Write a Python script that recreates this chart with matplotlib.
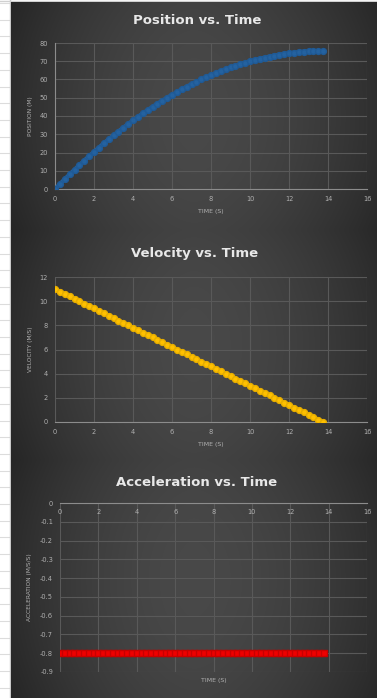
import numpy as np
import matplotlib
matplotlib.use("Agg")
import matplotlib.pyplot as plt

# ---------------- data ----------------
time_s = [0.0, 0.25, 0.5, 0.75, 1.0, 1.25, 1.5, 1.75, 2.0, 2.25, 2.5, 2.75, 3.0, 3.25,
          3.5, 3.75, 4.0, 4.25, 4.5, 4.75, 5.0, 5.25, 5.5, 5.75, 6.0, 6.25, 6.5, 6.75,
          7.0, 7.25, 7.5, 7.75, 8.0, 8.25, 8.5, 8.75, 9.0, 9.25, 9.5, 9.75, 10.0, 10.25,
          10.5, 10.75, 11.0, 11.25, 11.5, 11.75, 12.0, 12.25, 12.5, 12.75, 13.0, 13.25,
          13.5, 13.75]
position_m = [0.0, 2.7, 5.4, 8.0, 10.6, 13.1, 15.6, 18.0, 20.4, 22.7, 25.0, 27.2, 29.4,
              31.5, 33.6, 35.6, 37.6, 39.5, 41.4, 43.2, 45.0, 46.7, 48.4, 50.0, 51.6, 53.1,
              54.6, 56.0, 57.4, 58.7, 60.0, 61.2, 62.4, 63.5, 64.6, 65.6, 66.6, 67.5, 68.4,
              69.2, 70.0, 70.7, 71.4, 72.0, 72.6, 73.1, 73.6, 74.0, 74.4, 74.7, 75.0, 75.2,
              75.4, 75.5, 75.6, 75.6]
velocity_ms = [11.0, 10.8, 10.6, 10.4, 10.2, 10.0, 9.8, 9.6, 9.4, 9.2, 9.0, 8.8, 8.6, 8.4,
               8.2, 8.0, 7.8, 7.6, 7.4, 7.2, 7.0, 6.8, 6.6, 6.4, 6.2, 6.0, 5.8, 5.6, 5.4,
               5.2, 5.0, 4.8, 4.6, 4.4, 4.2, 4.0, 3.8, 3.6, 3.4, 3.2, 3.0, 2.8, 2.6, 2.4,
               2.2, 2.0, 1.8, 1.6, 1.4, 1.2, 1.0, 0.8, 0.6, 0.4, 0.2, 0.0]
accel_mss = [-0.8] * len(time_s)

titles = ["Position vs. Time", "Velocity vs. Time", "Acceleration vs. Time"]
ylabels = ["POSITION (M)", "VELOCITY (M/S)", "ACCELERATION (M/S/S)"]
xlabel = "TIME (S)"
x_ticks = [0, 2, 4, 6, 8, 10, 12, 14, 16]
pos_ticks = [0, 10, 20, 30, 40, 50, 60, 70, 80]
vel_ticks = [0, 2, 4, 6, 8, 10, 12]
acc_ticks = [0, -0.1, -0.2, -0.3, -0.4, -0.5, -0.6, -0.7, -0.8, -0.9]

# ---------------- layout ----------------
W, H = 377, 698
fig = plt.figure(figsize=(W / 100, H / 100), dpi=100)
fig.patch.set_facecolor("white")


def rect(x0, y0, x1, y1):
    return [x0 / W, 1 - y1 / H, (x1 - x0) / W, (y1 - y0) / H]


# spreadsheet strip on the left
sheet = fig.add_axes([0, 0, 1, 1])
sheet.set_xlim(0, W)
sheet.set_ylim(H, 0)
sheet.axis("off")
for yy in np.arange(3, H, 16.7):
    sheet.plot([0, 10], [yy, yy], color="#dcdcdc", lw=0.8)
sheet.plot([9.5, 9.5], [0, H], color="#c8c8c8", lw=1.0)
sheet.plot([0, W], [1, 1], color="#d0d0d0", lw=1.0)

panels = [(11, 2, 377, 230), (11, 230, 377, 460), (11, 460, 377, 698)]


def gradient(x0, y0, x1, y1):
    bg = fig.add_axes(rect(x0, y0, x1, y1))
    bg.axis("off")
    nx, ny = 200, 150
    gx = np.linspace(-1, 1, nx)
    gy = np.linspace(-1, 1, ny)
    X, Y = np.meshgrid(gx, gy)
    v = 0.285 - 0.10 * np.abs(X) ** 1.7 - 0.025 * np.abs(Y) ** 2
    v = v - 0.012 * (X < 0) * np.abs(X) ** 1.7
    img = np.dstack([v, v, v])
    bg.imshow(img, extent=[0, 1, 0, 1], aspect="auto", interpolation="bilinear")
    bg.set_xlim(0, 1)
    bg.set_ylim(0, 1)


for p in panels:
    gradient(*p)

title_kw = dict(color="#e8e8e8", fontsize=9.5, fontweight="bold",
                family="DejaVu Sans", ha="center", va="center")
fig.text(197 / W, 1 - 21 / H, titles[0], **title_kw)
fig.text(195 / W, 1 - 254 / H, titles[1], **title_kw)
fig.text(197 / W, 1 - 482 / H, titles[2], **title_kw)

tick_color = "#b0b0b0"
grid_color = "#595959"
axis_color = "#8c8c8c"


def style(ax):
    ax.set_facecolor("none")
    for s in ax.spines.values():
        s.set_visible(False)
    ax.grid(True, color=grid_color, lw=0.8)
    ax.set_axisbelow(True)
    ax.tick_params(length=0, colors=tick_color, labelsize=4.8, pad=5)


# Position
ax1 = fig.add_axes(rect(55, 43, 367, 189))
style(ax1)
ax1.set_xlim(0, 16)
ax1.set_ylim(0, 80)
ax1.set_xticks(x_ticks)
ax1.set_yticks(pos_ticks)
ax1.spines["left"].set_visible(True)
ax1.spines["left"].set_color(axis_color)
ax1.spines["bottom"].set_visible(True)
ax1.spines["bottom"].set_color(axis_color)
ax1.plot(time_s, position_m, color="#2462a0", lw=3, marker="o", ms=4.2,
         markeredgecolor="#1f5a96", zorder=3)
ax1.set_xlabel(xlabel, color=tick_color, fontsize=4.5, labelpad=5)
ax1.set_ylabel(ylabels[0], color=tick_color, fontsize=4.2, labelpad=5)

# Velocity
ax2 = fig.add_axes(rect(55, 277, 367, 422))
style(ax2)
ax2.set_xlim(0, 16)
ax2.set_ylim(0, 12)
ax2.set_xticks(x_ticks)
ax2.set_yticks(vel_ticks)
ax2.spines["bottom"].set_visible(True)
ax2.spines["bottom"].set_color(axis_color)
ax2.plot(time_s, velocity_ms, color="#ffc000", lw=3, marker="o", ms=4.2,
         markeredgecolor="#e6ad00", zorder=3)
ax2.set_xlabel(xlabel, color=tick_color, fontsize=4.5, labelpad=5)
ax2.set_ylabel(ylabels[1], color=tick_color, fontsize=4.2, labelpad=5)

# Acceleration
ax3 = fig.add_axes(rect(60, 503, 367, 672))
style(ax3)
ax3.set_xlim(0, 16)
ax3.set_ylim(-0.9, 0)
ax3.set_xticks(x_ticks)
ax3.set_yticks(acc_ticks)
ax3.set_yticklabels([("%.1f" % t) if t != 0 else "0" for t in acc_ticks])
ax3.spines["top"].set_visible(True)
ax3.spines["top"].set_color(axis_color)
ax3.xaxis.set_ticks_position("top")
ax3.tick_params(axis="x", labeltop=True, labelbottom=False, pad=-9)
ax3.plot(time_s, accel_mss, color="#ee0000", lw=3, marker="s", ms=4.0,
         markeredgecolor="#c80000", zorder=3)
ax3.text(0.5, -0.05, xlabel, transform=ax3.transAxes, color=tick_color,
         fontsize=4.5, ha="center", va="center")
ax3.set_ylabel(ylabels[2], color=tick_color, fontsize=4.2, labelpad=6)

fig.savefig("out.png", dpi=100, facecolor="white")
